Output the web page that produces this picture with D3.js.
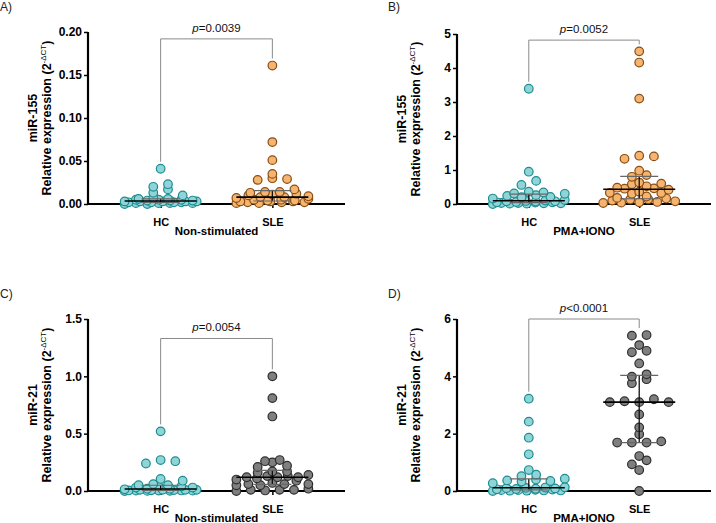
<!DOCTYPE html>
<html>
<head>
<meta charset="utf-8">
<script src="https://cdn.jsdelivr.net/npm/d3@7"></script>
<style>
  body { margin: 0; padding: 0; background: #fff; }
  svg text { font-family: "Liberation Sans", Arial, sans-serif; }
</style>
</head>
<body>
<div id="main"></div>
<script>
// ---- data ----
const groups = ['HC', 'SLE'];
const panelLabels = ['A)', 'B)', 'C)', 'D)'];
const yTitles = ['miR-155', 'miR-155', 'miR-21', 'miR-21'];
const conditions = ['Non-stimulated', 'PMA+IONO', 'Non-stimulated', 'PMA+IONO'];
const yMax = [0.2, 5, 1.5, 6];
const yTicksA = [0, 0.05, 0.10, 0.15, 0.20];
const yTicksB = [0, 1, 2, 3, 4, 5];
const yTicksC = [0, 0.5, 1.0, 1.5];
const yTicksD = [0, 2, 4, 6];
const yFormats = ['.2f', 'd', '.1f', 'd'];
const pTexts = ['=0.0039', '=0.0052', '=0.0054', '<0.0001'];
const bracketTop = [0.192, 4.82, 1.33, 6.0];

const hcA = [0.041, 0.023, 0.020, 0.017, 0.013, 0.010, 0.007, 0.006, 0.006, 0.005, 0.005, 0.005, 0.004, 0.004, 0.004,
  0.003, 0.003, 0.003, 0.003, 0.003, 0.002, 0.002, 0.002, 0.002, 0.001, 0.001, 0.001, 0.001, 0.000, 0.000];
const sleA = [0.161, 0.072, 0.051, 0.035, 0.030, 0.029, 0.028, 0.017, 0.014, 0.014, 0.013, 0.012, 0.011, 0.010, 0.009,
  0.008, 0.008, 0.007, 0.006, 0.005, 0.005, 0.004, 0.004, 0.003, 0.003, 0.003, 0.002, 0.002, 0.002, 0.001, 0.001];
const hcB = [3.39, 0.95, 0.68, 0.56, 0.36, 0.34, 0.31, 0.30, 0.26, 0.24, 0.21, 0.20, 0.16, 0.12, 0.10,
  0.09, 0.08, 0.08, 0.07, 0.06, 0.05, 0.05, 0.04, 0.03, 0.03, 0.02, 0.02, 0.01, 0.01, 0.00];
const sleB = [4.49, 4.16, 3.10, 1.42, 1.40, 1.33, 0.98, 0.85, 0.80, 0.63, 0.60, 0.58, 0.52, 0.48, 0.46, 0.45,
  0.42, 0.36, 0.33, 0.32, 0.30, 0.22, 0.18, 0.16, 0.14, 0.13, 0.10, 0.08, 0.06, 0.05, 0.04, 0.03];
const hcC = [0.52, 0.27, 0.26, 0.24, 0.105, 0.09, 0.06, 0.05, 0.05, 0.04, 0.04, 0.03, 0.03, 0.02, 0.02,
  0.015, 0.01, 0.01, 0.01, 0.01, 0.008, 0.006, 0.005, 0.005, 0.004, 0.003, 0.003, 0.002, 0.001, 0.000];
const sleC = [1.00, 0.81, 0.65, 0.27, 0.26, 0.25, 0.22, 0.21, 0.17, 0.17, 0.16, 0.14, 0.13, 0.13, 0.12, 0.12,
  0.12, 0.11, 0.10, 0.09, 0.07, 0.06, 0.06, 0.06, 0.05, 0.05, 0.02, 0.01, 0.01, 0.01, 0.005, 0.00];
const hcD = [3.22, 2.42, 1.86, 1.28, 0.73, 0.57, 0.52, 0.43, 0.40, 0.37, 0.35, 0.33, 0.27, 0.13, 0.12,
  0.11, 0.10, 0.09, 0.08, 0.07, 0.06, 0.05, 0.04, 0.03, 0.03, 0.02, 0.02, 0.01, 0.01, 0.00];
const sleD = [5.44, 5.42, 5.09, 4.89, 4.84, 4.45, 4.07, 3.99, 3.90, 3.76, 3.20, 3.13, 3.10, 3.10, 3.10,
  2.67, 2.22, 1.98, 1.73, 1.69, 1.69, 1.69, 1.22, 1.07, 0.93, 0.73, 0.00];

const yTicks = [yTicksA, yTicksB, yTicksC, yTicksD];
const series = [[hcA, sleA], [hcB, sleB], [hcC, sleC], [hcD, sleD]];

// ---- layout ----
const W = 716, H = 523;
const colX = [88, 457];         // y-axis position per column
const colEnd = [345, 711];      // x-axis end per column
const rowTop = [[32, 34], [319, 319]];
const rowBottom = [204, 491];
const R = 4.3;
const STEP = 14.7;   // horizontal spacing between neighbours in a row
const HALF_W = 36;   // half width of the scatter column
const ROW_H = 5;     // points closer than this (px) share a row
const MAX_ROW = 10;

const hcStyle = { fill: '#8fd4d6', stroke: '#1d8d92' };
const sleStyles = [{ fill: '#f5b46f', stroke: '#8a4e14' }, { fill: '#7f7f7f', stroke: '#2e2e2e' }];

const svg = d3.select('#main').append('svg')
  .attr('width', W).attr('height', H);

function slots(n, s) {
  const out = [];
  for (let j = 0; j < n; j++) out.push((j - (n - 1) / 2) * s);
  return out;
}

// row based scatter layout, like a column scatter plot
function scatter(values, y, cx) {
  const pts = values.map(v => ({ v, y: y(v) })).sort((a, b) => b.y - a.y);
  const rows = [];
  pts.forEach(p => {
    const cur = rows[rows.length - 1];
    if (cur && cur[0].y - p.y < ROW_H) cur.push(p);
    else rows.push([p]);
  });
  const res = [];
  rows.forEach(row => {
    const k = Math.ceil(row.length / MAX_ROW);
    const per = Math.ceil(row.length / k);
    for (let r = 0; r < k; r++) {
      const sub = row.slice(r * per, (r + 1) * per);
      const m = sub.length;
      const s = m > 1 ? Math.min(STEP, (2 * HALF_W - (k > 1 ? 4 : 0)) / (m - 1)) : 0;
      const shift = k > 1 ? (r % 2 === 0 ? -2 : 2) : 0;
      const xs = slots(m, s);
      // interleave so neighbours differ a little in height
      const order = d3.range(m).sort((a, b) => (a % 2) - (b % 2) || a - b);
      order.forEach((idx, j) => {
        res.push({ v: sub[j].v, y: sub[j].y, x: cx + xs[idx] + shift });
      });
    }
  });
  return res;
}

for (let i = 0; i < 4; i++) {
  const col = i % 2, row = Math.floor(i / 2);
  const x0 = colX[col], x1 = colEnd[col];
  const top = rowTop[row][col], bottom = rowBottom[row];
  const g = svg.append('g');

  const y = d3.scaleLinear().domain([0, yMax[i]]).range([bottom, top]);
  const x = d3.scalePoint().domain(groups).range([x0, x1]).padding(0.65);

  // panel label
  g.append('text')
    .attr('x', col === 0 ? 0 : 388)
    .attr('y', row === 0 ? 11 : 298)
    .attr('font-size', 12).attr('fill', '#222')
    .text(panelLabels[i]);

  // y axis
  const yAxis = d3.axisLeft(y).tickValues(yTicks[i]).tickSize(4).tickFormat(d3.format(yFormats[i]));
  const ya = g.append('g').attr('transform', `translate(${x0},0)`).call(yAxis);
  ya.select('.domain').attr('stroke', '#000').attr('stroke-width', 2.2).attr('d', `M0,${bottom}V${top}`);
  ya.selectAll('.tick line').attr('stroke', '#000').attr('stroke-width', 1.5);
  ya.selectAll('.tick text').attr('font-size', 12).attr('font-weight', 'bold').attr('fill', '#000')
    .attr('font-family', '"Liberation Sans", Arial, sans-serif').attr('x', -6);

  // x axis
  const xAxis = d3.axisBottom(x).tickSize(4).tickPadding(6);
  const xa = g.append('g').attr('transform', `translate(0,${bottom})`).call(xAxis);
  xa.select('.domain').attr('stroke', '#000').attr('stroke-width', 2.2).attr('d', `M${x0 - 1},0H${x1}`);
  xa.selectAll('.tick line').attr('stroke', '#000').attr('stroke-width', 1.5);
  xa.selectAll('.tick text').attr('font-size', 11).attr('font-weight', 'bold').attr('fill', '#000')
    .attr('font-family', '"Liberation Sans", Arial, sans-serif').attr('dy', '1.1em');

  // condition label
  g.append('text')
    .attr('x', (x0 + x1) / 2).attr('y', bottom + 31)
    .attr('text-anchor', 'middle').attr('font-size', 11.5).attr('font-weight', 'bold')
    .text(conditions[i]);

  // y titles
  const cy = (top + bottom) / 2;
  g.append('text')
    .attr('transform', `translate(${x0 - 51},${cy}) rotate(-90)`)
    .attr('text-anchor', 'middle').attr('font-size', 12.5).attr('font-weight', 'bold')
    .text(yTitles[i]);
  const t2 = g.append('text')
    .attr('transform', `translate(${x0 - 37},${cy}) rotate(-90)`)
    .attr('text-anchor', 'middle').attr('font-size', 12.5).attr('font-weight', 'bold');
  t2.append('tspan').text('Relative expression (2');
  t2.append('tspan').attr('font-size', 8).attr('font-weight', 'normal').attr('dy', -5).text('-ΔCT');
  t2.append('tspan').attr('dy', 5).text(')');

  // points + median/IQR
  groups.forEach((grp, k) => {
    const vals = series[i][k];
    const st = k === 0 ? hcStyle : sleStyles[row];
    const cx = x(grp);
    const pts = scatter(vals, y, cx);
    g.append('g').selectAll('circle').data(pts).enter().append('circle')
      .attr('cx', d => d.x).attr('cy', d => d.y).attr('r', R)
      .attr('fill', st.fill).attr('stroke', st.stroke).attr('stroke-width', 1.2);

    const sorted = vals.slice().sort(d3.ascending);
    const med = d3.quantile(sorted, 0.5);
    const q1 = d3.quantile(sorted, 0.25);
    const q3 = d3.quantile(sorted, 0.75);
    g.append('line').attr('x1', cx).attr('x2', cx).attr('y1', y(q1)).attr('y2', y(q3))
      .attr('stroke', '#111').attr('stroke-width', 1.3);
    [q1, q3].forEach(q => {
      g.append('line').attr('x1', cx - 19).attr('x2', cx + 19).attr('y1', y(q)).attr('y2', y(q))
        .attr('stroke', '#666').attr('stroke-width', 1.2);
    });
    g.append('line').attr('x1', cx - 36).attr('x2', cx + 36).attr('y1', y(med)).attr('y2', y(med))
      .attr('stroke', '#000').attr('stroke-width', 1.6);
  });

  // significance bracket
  const yb = y(bracketTop[i]);
  const leg0 = y(d3.max(series[i][0])) - 7;
  const leg1 = y(d3.max(series[i][1])) - 7;
  g.append('path')
    .attr('d', `M${x('HC')},${leg0}V${yb}H${x('SLE')}V${leg1}`)
    .attr('fill', 'none').attr('stroke', '#8a8a8a').attr('stroke-width', 1);
  const pt = g.append('text')
    .attr('x', (x('HC') + x('SLE')) / 2).attr('y', yb - 7)
    .attr('text-anchor', 'middle').attr('font-size', 11.5).attr('fill', '#111');
  pt.append('tspan').attr('font-style', 'italic').text('p');
  pt.append('tspan').text(pTexts[i]);
}
</script>
</body>
</html>
